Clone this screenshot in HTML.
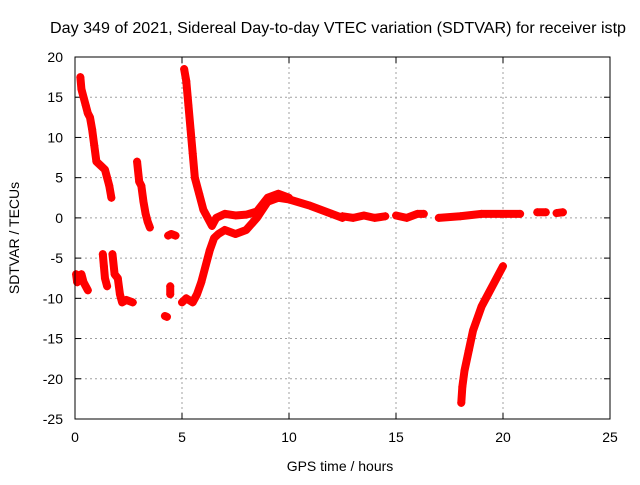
<!DOCTYPE html>
<html><head><meta charset="utf-8"><style>
body{margin:0;background:#fff}
text{font-family:"Liberation Sans",sans-serif;font-size:14px;fill:#000}
</style></head><body>
<svg id="chart" width="640" height="480" xmlns="http://www.w3.org/2000/svg">
<rect width="640" height="480" fill="#fff"/>
<text x="338" y="33" text-anchor="middle" style="font-size:16px" textLength="576" lengthAdjust="spacingAndGlyphs">Day 349 of 2021, Sidereal Day-to-day VTEC variation (SDTVAR) for receiver istp</text>
<g id="grid"></g><g id="ticks"></g><g id="marks"></g>
<rect x="75" y="57" width="535" height="362" fill="none" stroke="#000" stroke-width="1"/>
<text x="340" y="471" text-anchor="middle">GPS time / hours</text>
<text transform="translate(19,238) rotate(-90)" text-anchor="middle">SDTVAR / TECUs</text>
</svg>
<script>
const xTicks=[0,5,10,15,20,25];
const yTicks=[20,15,10,5,0,-5,-10,-15,-20,-25];
const segA=[[0.05,-7],[0.1,-8],[0.2,-7.5],[0.3,-7],[0.4,-8],[0.5,-8.5],[0.6,-9]];
const segB=[[0.25,17.5],[0.3,16],[0.4,15],[0.5,14],[0.6,13],[0.7,12.5],[0.8,11],[0.9,9],[1.0,7],[1.2,6.5],[1.4,6],[1.5,5],[1.6,4],[1.7,2.5]];
const segC=[[1.3,-4.5],[1.35,-6],[1.4,-7.5],[1.5,-8.5]];
const segD=[[1.75,-4.5],[1.85,-7],[2.0,-7.5],[2.1,-9.5],[2.2,-10.5],[2.4,-10.2],[2.7,-10.5]];
const segE=[[2.9,7],[3.0,4.5],[3.1,4],[3.2,2],[3.3,0.5],[3.4,-0.5],[3.5,-1.2]];
const segF=[[4.2,-12.2],[4.3,-12.3]];
const segG=[[4.35,-2.2],[4.5,-2],[4.7,-2.2]];
const segG2=[[4.45,-8.5],[4.45,-9.5]];
const segH=[[5.0,-10.5],[5.2,-10],[5.5,-10.5],[5.7,-9.5],[5.9,-8],[6.1,-6],[6.3,-4],[6.5,-2.5],[6.7,-2],[7,-1.5],[7.5,-2],[8,-1.5],[8.5,0],[9,2],[9.5,2.5],[10,2.3],[11,1.5],[12,0.5],[12.5,0]];
const segI=[[5.1,18.5],[5.2,17],[5.3,14],[5.4,11],[5.5,8],[5.6,5],[5.8,3],[6,1],[6.2,0],[6.4,-1],[6.6,0],[7,0.5],[7.5,0.3],[8,0.4],[8.5,0.8],[9,2.5],[9.5,3],[10,2.5]];
const segJ=[[12.5,0.2],[13,0],[13.5,0.3],[14,0],[14.5,0.2]];
const segK=[[15,0.3],[15.5,0],[16,0.5],[16.3,0.5]];
const segL=[[17,0],[18,0.2],[19,0.5],[20,0.5],[20.8,0.5]];
const segM=[[21.6,0.7],[22,0.7]];
const segN=[[22.5,0.6],[22.8,0.7]];
const segO=[[18.05,-23],[18.1,-21],[18.2,-19],[18.4,-16.5],[18.6,-14],[18.8,-12.5],[19.0,-11],[19.3,-9.5],[19.6,-8],[20,-6]];
const series=[segA,segB,segC,segD,segE,segF,segG,segG2,segH,segI,segJ,segK,segL,segM,segN,segO];
const NS='http://www.w3.org/2000/svg';
const X0=75,X1=610,Y0=57,Y1=419;
function sx(t){return X0+(t-0)/(25-0)*(X1-X0);}
function sy(v){return Y0+(20-v)/(20-(-25))*(Y1-Y0);}
const grid=document.getElementById('grid'),ticks=document.getElementById('ticks'),marks=document.getElementById('marks');
function mk(tag,attrs,parent){const e=document.createElementNS(NS,tag);for(const k in attrs)e.setAttribute(k,attrs[k]);parent.appendChild(e);return e;}
xTicks.forEach(t=>{
  const x=sx(t);
  if(t>0&&t<25){const g=mk('line',{x1:x,x2:x,y1:Y0,y2:Y1,stroke:'#a0a0a0','stroke-dasharray':'2,3'},grid);
  
  }
  mk('line',{x1:x,x2:x,y1:Y1,y2:Y1-6,stroke:'#000'},ticks);
  mk('line',{x1:x,x2:x,y1:Y0,y2:Y0+6,stroke:'#000'},ticks);
  const l=mk('text',{x:x,y:Y1+23,'text-anchor':'middle'},ticks);l.textContent=t;
  
  
});
yTicks.forEach(v=>{
  const y=sy(v);
  if(v<20&&v>-25){const g=mk('line',{x1:X0,x2:X1,y1:y,y2:y,stroke:'#a0a0a0','stroke-dasharray':'2,3'},grid);
  
  }
  mk('line',{x1:X0,x2:X0+6,y1:y,y2:y,stroke:'#000'},ticks);
  mk('line',{x1:X1,x2:X1-6,y1:y,y2:y,stroke:'#000'},ticks);
  const l=mk('text',{x:X0-12,y:y+5,'text-anchor':'end'},ticks);l.textContent=v;
  
  
});
series.forEach(s=>{
  const pl=mk('polyline',{points:s.map(p=>sx(p[0])+','+sy(p[1])).join(' '),fill:'none',stroke:'#f00','stroke-width':8,'stroke-linejoin':'round','stroke-linecap':'round'},marks);
  
  
  s.forEach(p=>{
    const x=sx(p[0]),y=sy(p[1]);
    const m=mk('path',{d:`M${x-4},${y}H${x+4}M${x},${y-4}V${y+4}`,stroke:'#f00','stroke-width':1},marks);
    
    
  });
});
</script>
</body></html>
